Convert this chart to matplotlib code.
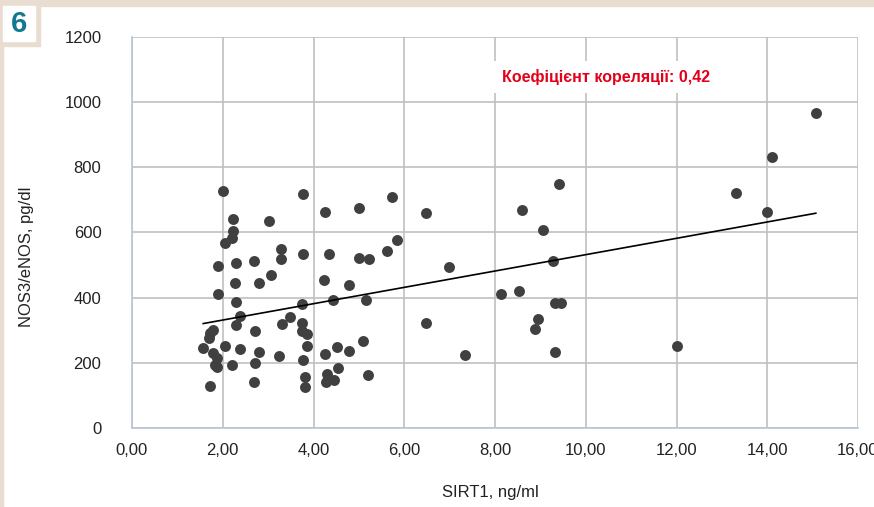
import numpy as np
import matplotlib.pyplot as plt
from matplotlib.patches import Rectangle

# ДАНІ
sirt1 = [2.00, 3.76, 4.25, 5.00, 5.72, 6.48, 2.23, 3.02, 2.23, 2.21,
         2.05, 3.29, 3.29, 3.76, 4.34, 5.84, 5.61, 5.01, 5.22, 1.89,
         2.29, 2.68, 2.28, 2.79, 3.07, 4.24, 4.79, 1.89, 2.29, 3.74,
         4.43, 5.15, 2.38, 3.48, 2.29, 3.30, 3.74, 3.74, 3.86, 2.72,
         1.78, 1.72, 1.69, 1.57, 2.06, 2.38, 2.79, 3.24, 3.85, 4.25,
         4.52, 4.79, 5.10, 1.79, 1.88, 1.83, 1.88, 2.20, 2.72, 3.76,
         3.81, 3.81, 4.29, 4.28, 4.46, 4.54, 5.21, 1.72, 2.68, 6.48,
         6.99, 7.33, 9.40, 8.59, 9.06, 9.28, 8.14, 8.53, 9.32, 9.45,
         8.95, 8.89, 9.32, 12.02, 15.07, 14.11, 13.32, 13.99]
nos3 = [728, 718, 663, 674, 708, 660, 640, 635, 605, 584,
        568, 549, 520, 534, 534, 578, 542, 523, 520, 496,
        507, 513, 446, 446, 469, 454, 438, 412, 386, 382,
        392, 392, 344, 341, 315, 318, 323, 297, 288, 298,
        301, 293, 277, 246, 252, 242, 234, 222, 252, 227,
        249, 236, 266, 229, 214, 193, 186, 194, 198, 209,
        156, 125, 166, 142, 148, 184, 163, 130, 140, 323,
        493, 225, 749, 670, 609, 513, 412, 421, 383, 383,
        336, 305, 233, 252, 967, 833, 722, 663]

x_ticks = [0, 2, 4, 6, 8, 10, 12, 14, 16]
y_ticks = [0, 200, 400, 600, 800, 1000, 1200]
corr_text = "Коефіцієнт кореляції: 0,42"

plt.rcParams['font.family'] = ['Liberation Sans', 'DejaVu Sans']

fig = plt.figure(figsize=(8.74, 5.07), dpi=100)
ax = fig.add_axes([132/874, 1 - 428/507, (858-132)/874, (428-37)/507])

# рамка
beige = '#e8ddd0'
fig.patches.append(Rectangle((0, 1 - 6/507), 1, 6/507, transform=fig.transFigure,
                             color=beige, zorder=0))
fig.patches.append(Rectangle((0, 0), 3/874, 1, transform=fig.transFigure,
                             color=beige, zorder=0))
fig.patches.append(Rectangle((0, 1 - 46/507), 40/874, 46/507, transform=fig.transFigure,
                             color=beige, zorder=0))
fig.patches.append(Rectangle((3/874, 1 - 41/507), 32/874, 35/507, transform=fig.transFigure,
                             color='white', zorder=1))
fig.text(19/874, 1 - 24/507, '6', color='#117a91', fontsize=21, fontweight='bold',
         ha='center', va='center', zorder=2)

ax.scatter(sirt1, nos3, s=62, color='#404040', zorder=3, linewidths=0)

# лінія тренду
k, b = np.polyfit(sirt1, nos3, 1)
xs = np.array([min(sirt1), max(sirt1)])
ax.plot(xs, k * xs + b, color='black', lw=1.2, zorder=4)

ax.set_xlim(0, 16)
ax.set_ylim(0, 1200)
ax.set_xticks(x_ticks)
ax.set_yticks(y_ticks)
ax.set_xticklabels([f"{v:.2f}".replace('.', ',') for v in x_ticks])
ax.set_yticklabels([str(v) for v in y_ticks])
ax.tick_params(length=0, labelsize=12, colors='#222222')
ax.tick_params(axis='x', pad=11)
ax.tick_params(axis='y', pad=22)
ax.grid(True, color='#c0c0c0', lw=1.2)
ax.set_axisbelow(True)
for s in ['top', 'right']:
    ax.spines[s].set_visible(False)
for s in ['left', 'bottom']:
    ax.spines[s].set_color('#b8c4dc')
    ax.spines[s].set_linewidth(1.2)

ax.text(8.15, 1000 + 25/0.326, corr_text, color='#e2001a', fontsize=11.5,
        fontweight='bold', va='center', ha='left', zorder=5,
        bbox=dict(facecolor='white', edgecolor='none', pad=6))

fig.text(490/874, 1 - 492/507, 'SIRT1, ng/ml', fontsize=12, ha='center', va='center',
         color='#222222')
fig.text(27/874, 1 - 257/507, 'NOS3/eNOS, pg/dl', fontsize=12, ha='center', va='center',
         rotation=90, color='#222222')

fig.savefig('out.png', dpi=100)
